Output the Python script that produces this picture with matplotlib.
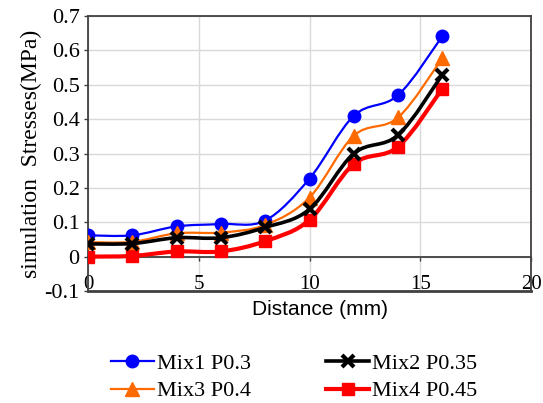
import numpy as np
import matplotlib
matplotlib.use("Agg")
import matplotlib.pyplot as plt
from matplotlib.path import Path
from matplotlib.patches import PathPatch
from matplotlib.lines import Line2D
from matplotlib.ticker import FuncFormatter

distance = [0, 2, 4, 6, 8, 10, 12, 14, 16]
mix1 = [0.062, 0.062, 0.088, 0.095, 0.105, 0.227, 0.410, 0.470, 0.642]
mix2 = [0.037, 0.038, 0.055, 0.055, 0.085, 0.138, 0.300, 0.354, 0.530]
mix3 = [0.042, 0.043, 0.068, 0.070, 0.092, 0.172, 0.352, 0.405, 0.578]
mix4 = [0.000, 0.002, 0.015, 0.015, 0.045, 0.107, 0.270, 0.320, 0.489]
labels = ["Mix1 P0.3", "Mix2 P0.35", "Mix3 P0.4", "Mix4 P0.45"]

serif = "Liberation Serif"
sans = "Liberation Sans"

fig = plt.figure(figsize=(5.43, 4.03), dpi=100)
ax = fig.add_axes([0.162, 0.278, 0.816, 0.682])


def smooth_path(x, y):
    pts = np.column_stack([x, y]).astype(float)
    n = len(pts)
    verts = [pts[0]]
    codes = [Path.MOVETO]
    for i in range(n - 1):
        p0 = pts[i - 1] if i > 0 else pts[i]
        p1 = pts[i]
        p2 = pts[i + 1]
        p3 = pts[i + 2] if i + 2 < n else pts[i + 1]
        c1 = p1 + (p2 - p0) / 6.0
        c2 = p2 - (p3 - p1) / 6.0
        verts += [c1, c2, p2]
        codes += [Path.CURVE4] * 3
    return Path(verts, codes)


series = [
    (mix1, "#0000ff", "o", 9, 1.6, 1, dict()),
    (mix2, "#000000", "x", 8, 2.6, 3, dict(mew=3)),
    (mix3, "#ff6a00", "^", 10, 1.6, 2, dict()),
    (mix4, "#ff0000", "s", 8, 3.0, 0, dict()),
]
handles = {}
for idx, (vals, col, mk, ms, lw, z, extra) in enumerate(series):
    patch = PathPatch(smooth_path(distance, vals), fill=False, edgecolor=col,
                      lw=lw, zorder=3 + z, capstyle="round", joinstyle="round")
    ax.add_patch(patch)
    ax.plot(distance, vals, linestyle="none", marker=mk, ms=ms, color=col,
            mec=col, zorder=3.5 + z, **extra)
    handles[idx] = Line2D([], [], color=col, lw=lw, marker=mk, ms=ms, mec=col,
                          **extra)

ax.set_xlim(0, 20)
ax.set_ylim(-0.1, 0.7)
ax.set_xticks([0, 5, 10, 15, 20])
ax.set_yticks(np.round(np.arange(-0.1, 0.71, 0.1), 1))


def yfmt(v, pos):
    if abs(v) < 1e-9:
        return "0"
    return f"{v:.1f}"


ax.yaxis.set_major_formatter(FuncFormatter(yfmt))
ax.grid(True, color="#d9d9d9", lw=1.0, zorder=0)
ax.set_axisbelow(True)

frame_col = "#404040"
for s in ["left", "right", "top"]:
    ax.spines[s].set_color(frame_col)
    ax.spines[s].set_linewidth(1.3)
ax.spines["bottom"].set_position(("data", 0))
ax.spines["bottom"].set_color(frame_col)
ax.spines["bottom"].set_linewidth(1.3)
ax.axhline(-0.1, color=frame_col, lw=2.0, clip_on=False, zorder=10)

ax.tick_params(axis="x", direction="out", length=3, width=1, color=frame_col,
               pad=10, labelsize=15)
ax.tick_params(axis="y", direction="out", length=3, width=1, color=frame_col,
               pad=3, labelsize=16)
for lab in ax.get_xticklabels() + ax.get_yticklabels():
    lab.set_fontfamily(serif)

ax.set_ylabel("simulation  Stresses(MPa)", fontfamily=serif, fontsize=17,
              labelpad=2)
fig.text(0.59, 0.232, "Distance (mm)", fontfamily=sans, fontsize=15,
         ha="center", va="center")

order = [0, 2, 1, 3]
leg = fig.legend([handles[i] for i in order], [labels[i] for i in order],
                 ncol=2, loc="center", bbox_to_anchor=(0.542, 0.063),
                 frameon=False, handlelength=1.9, handletextpad=0.15,
                 columnspacing=3.4, labelspacing=0.3,
                 prop={"family": serif, "size": 16})

fig.savefig("out.png", dpi=100)
